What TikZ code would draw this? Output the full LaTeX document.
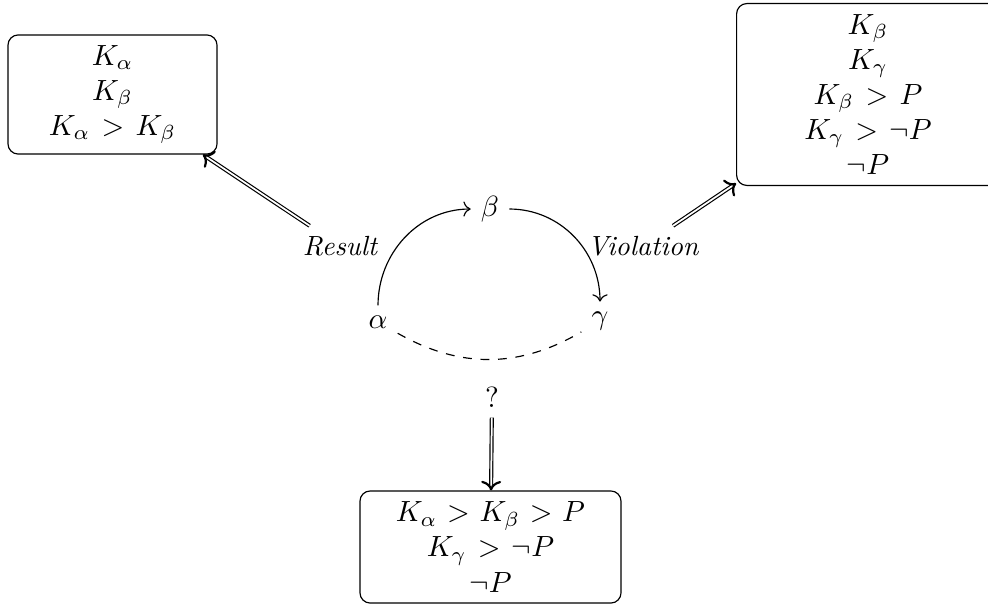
\documentclass[tikz,border=0pt]{standalone}
\usetikzlibrary{arrows.meta}
\begin{document}
\begin{tikzpicture}[x=0.3425pt,y=-0.3425pt,
  box/.style={draw, rounded corners=3.5pt, align=center, inner sep=3pt},
  lbl/.style={font=\fontsize{9.5}{11}\selectfont\itshape, inner sep=3.33pt},
  dbl/.style={double, double distance=0.6pt, shorten >=1.6pt},
  headtip/.style={line width=0.75pt, -{To}},
  ]
\useasboundingbox (0,0) rectangle (988,605);
% boxes
\node[box, minimum width=71.6pt, minimum height=40.8pt] (lbox) at (112.5,94.5)
  {$K_\alpha$\\ $K_\beta$\\ $K_\alpha\mkern2mu>\mkern2mu K_\beta$};
\node[box, minimum width=90pt, minimum height=62.3pt] (rbox) at (868,94.5)
  {$K_\beta$\\ $K_\gamma$\\ $K_\beta\mkern2mu>\mkern2mu P$\\ $K_\gamma\mkern2mu>\mkern2mu\neg P$\\ $\neg P$};
\node[box, minimum width=89.4pt, minimum height=38.4pt] (bbox) at (490.5,547)
  {$K_\alpha\mkern1mu>\mkern1mu K_\beta\mkern1mu>\mkern1mu P$\\ $K_\gamma\mkern2mu>\mkern2mu\neg P$\\ $\neg P$};
% triangle
\node (alpha) at (378,322) {$\alpha$};
\node (beta) at (490,209) {$\beta$};
\node (gamma) at (600,321) {$\gamma$};
\draw[->] (alpha) to[out=90,in=180] (beta);
\draw[->] (beta) to[out=0,in=90] (gamma);
\draw[dashed] (alpha) to[bend right=30] (gamma);
% labels
\node[lbl] (result) at (340,246) {Result};
\node[lbl] (violation) at (643,246) {Violation};
\node (q) at (492,397) {?};
% double arrows
\draw[dbl] (result) -- (lbox) coordinate[pos=0.99] (r1) coordinate[pos=1] (r2);
\draw[headtip] (r1) -- (r2);
\draw[dbl] (violation) -- (rbox) coordinate[pos=0.99] (v1) coordinate[pos=1] (v2);
\draw[headtip] (v1) -- (v2);
\draw[dbl] (q) -- (bbox) coordinate[pos=0.99] (q1) coordinate[pos=1] (q2);
\draw[headtip] (q1) -- (q2);
\end{tikzpicture}
\end{document}
